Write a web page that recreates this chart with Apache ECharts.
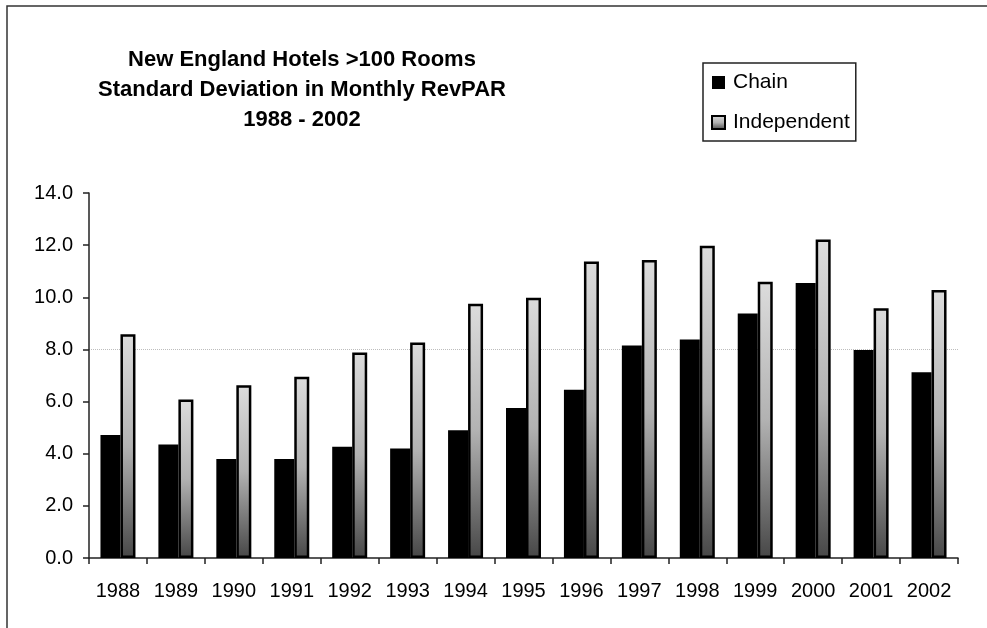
<!DOCTYPE html>
<html>
<head>
<meta charset="utf-8">
<script src="https://cdn.jsdelivr.net/npm/echarts@6/dist/echarts.min.js"></script>
<style>
  html, body { margin: 0; padding: 0; background: #fff; }
  #chart { width: 987px; height: 628px; }
</style>
</head>
<body>
<div id="chart"></div>
<script>
// Years on the category axis
const years = ['1988', '1989', '1990', '1991', '1992', '1993', '1994', '1995',
               '1996', '1997', '1998', '1999', '2000', '2001', '2002'];

// Standard deviation in monthly RevPAR, by hotel type
const chainValues = [4.72, 4.35, 3.80, 3.80, 4.27, 4.20, 4.90, 5.75,
                     6.45, 8.15, 8.38, 9.38, 10.55, 7.98, 7.12];
const independentValues = [8.58, 6.08, 6.63, 6.95, 7.88, 8.27, 9.75, 9.98,
                           11.37, 11.43, 11.98, 10.60, 12.22, 9.58, 10.28];

// Value axis range
const yMin = 0;
const yMax = 14;
const yStep = 2;

const FONT = '"Liberation Sans", Arial, Helvetica, sans-serif';

const greyFill = new echarts.graphic.LinearGradient(0, 0, 0, 1, [
  { offset: 0, color: '#dcdcdc' },
  { offset: 0.5, color: '#b2b2b2' },
  { offset: 1, color: '#474747' }
]);

const chart = echarts.init(document.getElementById('chart'), null, { renderer: 'canvas' });

chart.setOption({
  backgroundColor: '#ffffff',
  animation: false,
  textStyle: { fontFamily: FONT, color: '#000' },
  title: {
    text: 'New England Hotels >100 Rooms\nStandard Deviation in Monthly RevPAR\n1988 - 2002',
    left: 297,
    top: 40,
    textAlign: 'center',
    textStyle: {
      fontFamily: FONT,
      fontSize: 22,
      fontWeight: 'bold',
      color: '#000',
      lineHeight: 30
    }
  },
  legend: {
    orient: 'vertical',
    left: 703,
    top: 63,
    padding: [9, 6, 8, 8],
    icon: 'rect',
    itemWidth: 13,
    itemHeight: 13,
    itemGap: 19,
    borderColor: '#222',
    borderWidth: 1.5,
    textStyle: { fontFamily: FONT, fontSize: 21, color: '#000', padding: [0, 0, 0, 3] },
    data: ['Chain', 'Independent']
  },
  graphic: [
    {
      type: 'polyline',
      silent: true,
      shape: { points: [[7, 628], [7, 6], [987, 6]] },
      style: { stroke: '#333', lineWidth: 1.5, fill: null }
    }
  ],
  grid: {
    left: 89,
    right: 29,
    top: 193,
    bottom: 70,
    containLabel: false
  },
  xAxis: {
    type: 'category',
    data: years,
    boundaryGap: true,
    axisLine: { lineStyle: { color: '#222', width: 1.5 } },
    axisTick: { show: true, length: 6, inside: false, lineStyle: { color: '#222', width: 1.5 } },
    axisLabel: { fontFamily: FONT, fontSize: 20, color: '#000', margin: 23 },
    splitLine: { show: false }
  },
  yAxis: {
    type: 'value',
    min: yMin,
    max: yMax,
    interval: yStep,
    axisLine: { show: true, lineStyle: { color: '#222', width: 1.5 } },
    axisTick: { show: true, length: 6, lineStyle: { color: '#222', width: 1.5 } },
    axisLabel: {
      fontFamily: FONT,
      fontSize: 20,
      color: '#000',
      margin: 16,
      formatter: v => v.toFixed(1)
    },
    splitLine: { show: false }
  },
  series: [
    {
      name: 'Chain',
      type: 'bar',
      data: chainValues,
      barWidth: 20,
      barGap: '0%',
      itemStyle: { color: '#000', borderColor: '#000', borderWidth: 0 },
      markLine: {
        silent: true,
        symbol: 'none',
        label: { show: false },
        lineStyle: { color: '#bdbdbd', type: 'dotted', width: 1 },
        data: [{ yAxis: 8 }],
        z: 0
      },
      z: 2
    },
    {
      name: 'Independent',
      type: 'bar',
      data: independentValues,
      barWidth: 15,
      barGap: '0%',
      itemStyle: { color: greyFill, borderColor: '#000', borderWidth: 2.5 },
      z: 3
    }
  ]
});
</script>
</body>
</html>
